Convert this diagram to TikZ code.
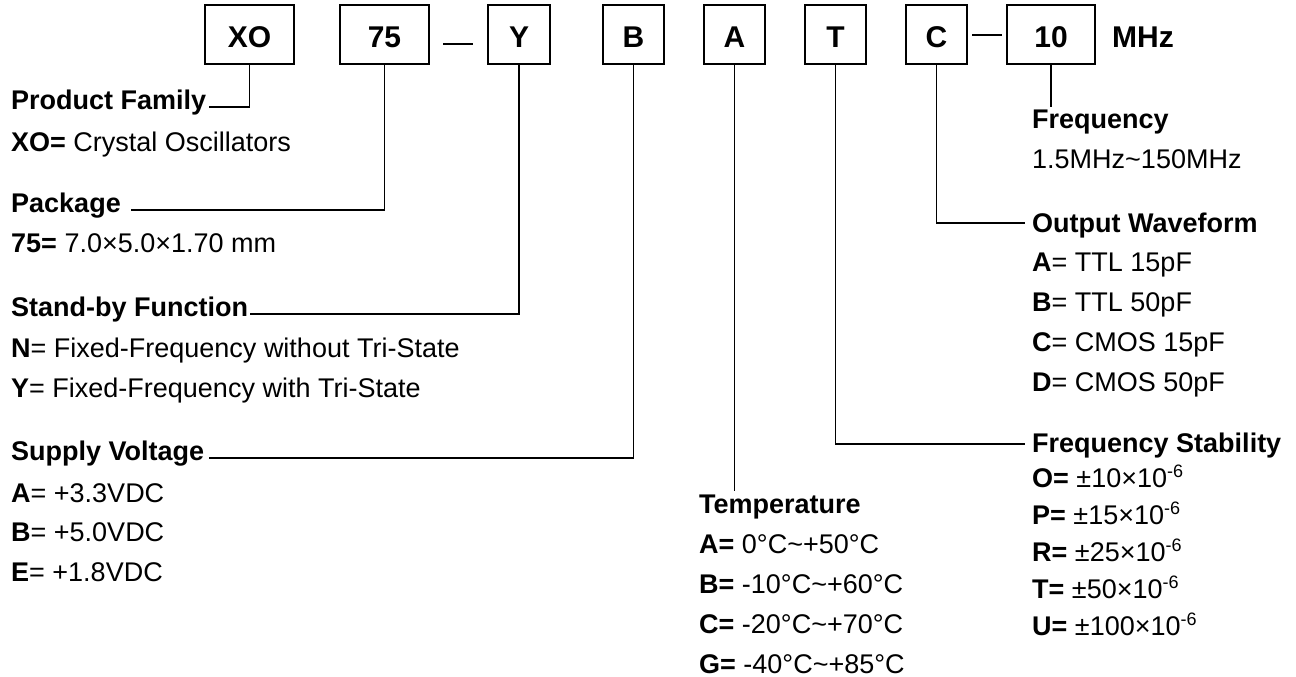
\documentclass[tikz,border=0pt]{standalone}
\usepackage{fontspec}
\setmainfont{Liberation Sans}
\usetikzlibrary{calc}
\newcommand{\supm}[1]{\raisebox{10pt}{\fontsize{18}{18}\selectfont #1}}
\begin{document}
\begin{tikzpicture}[x=1pt,y=-1pt,
  box/.style={draw, line width=2pt, inner sep=0pt, minimum height=59pt,
    font=\fontsize{30}{36}\selectfont\bfseries, text height=26pt, text depth=0pt},
  txt/.style={anchor=base west, inner sep=0pt, font=\fontsize{27}{32}\selectfont},
  hd/.style={anchor=base west, inner sep=0pt, font=\fontsize{27}{32}\selectfont\bfseries},
  conn/.style={line width=1.8pt},
]
\useasboundingbox[fill=white] (0,0) rectangle (1296,677);

% code boxes
\node[box, minimum width=89pt] (bxo) at (249.5,34.5) {XO};
\node[box, minimum width=89pt] (b75) at (384.5,34.5) {75};
\node[box, minimum width=62pt] (bY)  at (519,34.5) {Y};
\node[box, minimum width=61pt] (bB)  at (633.5,34.5) {B};
\node[box, minimum width=61pt] (bA)  at (734.5,34.5) {A};
\node[box, minimum width=61pt] (bT)  at (835.5,34.5) {T};
\node[box, minimum width=61pt] (bC)  at (936.5,34.5) {C};
\node[box, minimum width=88pt] (b10) at (1051,34.5) {10};
\node[anchor=base west, inner sep=0pt, font=\fontsize{30}{36}\selectfont\bfseries] (mhz) at (1112,48) {MHz};

\coordinate (d1a) at (443,44);
\coordinate (d1b) at (473,44);
\draw[conn] (d1a) -- (d1b);
\coordinate (d2a) at (972,35);
\coordinate (d2b) at (1002,35);
\draw[conn] (d2a) -- (d2b);

% left column
\node[hd]  (pf)  at (11,109) {Product Family};
\node[txt] (pfx) at (11,151) {\textbf{XO=} Crystal Oscillators};
\node[hd]  (pk)  at (11,212) {Package};
\node[txt] (pkx) at (11,252) {\textbf{75=} 7.0×5.0×1.70 mm};
\node[hd]  (sb)  at (11,316) {Stand-by Function};
\node[txt] (sbn) at (11,357) {\textbf{N}= Fixed-Frequency without Tri-State};
\node[txt] (sby) at (11,397) {\textbf{Y}= Fixed-Frequency with Tri-State};
\node[hd]  (sv)  at (11,460) {Supply Voltage};
\node[txt] (sva) at (11,502) {\textbf{A}= +3.3VDC};
\node[txt] (svb) at (11,541) {\textbf{B}= +5.0VDC};
\node[txt] (sve) at (11,581) {\textbf{E}= +1.8VDC};

% temperature
\node[hd]  (tp)  at (699,513) {Temperature};
\node[txt] (tpa) at (699,553) {\textbf{A=} 0°C\textasciitilde+50°C};
\node[txt] (tpb) at (699,593) {\textbf{B=} -10°C\textasciitilde+60°C};
\node[txt] (tpc) at (699,633) {\textbf{C=} -20°C\textasciitilde+70°C};
\node[txt] (tpg) at (699,673) {\textbf{G=} -40°C\textasciitilde+85°C};

% right column
\node[hd]  (fq)  at (1032,128) {Frequency};
\node[txt] (fqr) at (1032,168) {1.5MHz\textasciitilde150MHz};
\node[hd]  (ow)  at (1032,232) {Output Waveform};
\node[txt] (owa) at (1032,271) {\textbf{A}= TTL 15pF};
\node[txt] (owb) at (1032,311) {\textbf{B}= TTL 50pF};
\node[txt] (owc) at (1032,351) {\textbf{C}= CMOS 15pF};
\node[txt] (owd) at (1032,391) {\textbf{D}= CMOS 50pF};
\node[hd]  (fs)  at (1032,452) {Frequency Stability};
\node[txt] (fso) at (1032,487) {\textbf{O=} ±10×10\supm{-6}};
\node[txt] (fsp) at (1032,524) {\textbf{P=} ±15×10\supm{-6}};
\node[txt] (fsr) at (1032,561) {\textbf{R=} ±25×10\supm{-6}};
\node[txt] (fst) at (1032,598) {\textbf{T=} ±50×10\supm{-6}};
\node[txt] (fsu) at (1032,635) {\textbf{U=} ±100×10\supm{-6}};

% connectors
\draw[conn] (bxo.south) |- ($(pf.base east)+(3,-2)$);
\draw[conn] (b75.south) |- ($(pk.base east)+(10,-2)$);
\draw[conn] (bY.south)  |- ($(sb.base east)+(2,-2)$);
\draw[conn] (bB.south)  |- ($(sv.base east)+(5,-2)$);
\coordinate (tpe) at (734.5,491);
\draw[conn] (bA.south) -- (tpe);
\draw[conn] (bT.south)  |- ($(fs.base west)+(-7,-8)$);
\draw[conn] (bC.south)  |- ($(ow.base west)+(-7,-9)$);
\coordinate (fqe) at (1051,107);
\draw[conn] (b10.south) -- (fqe);
\end{tikzpicture}
\end{document}
